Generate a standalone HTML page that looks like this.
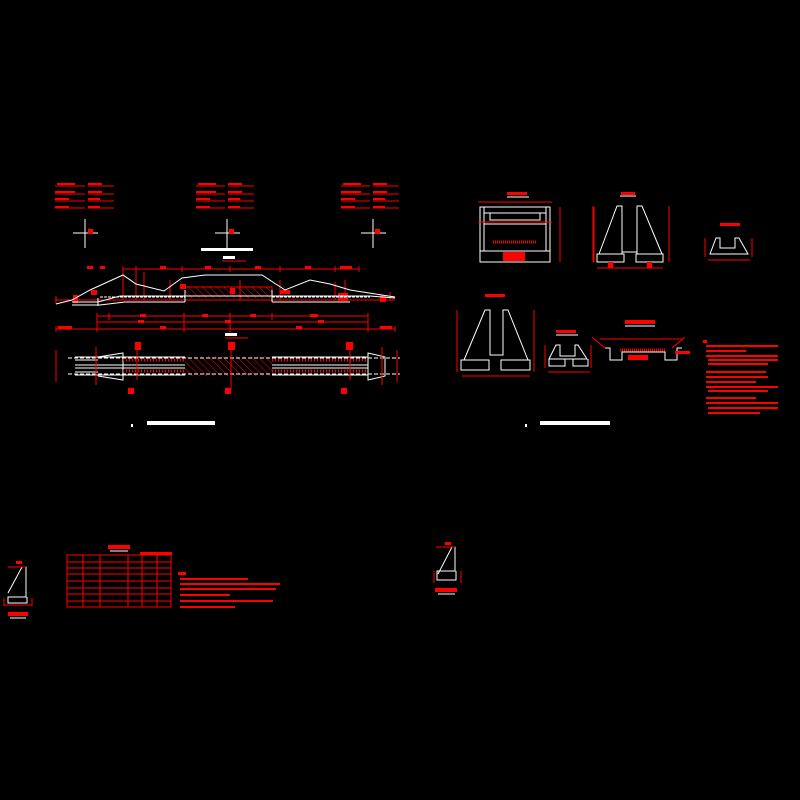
<!DOCTYPE html>
<html><head><meta charset="utf-8"><style>
html,body{margin:0;padding:0;background:#000;width:800px;height:800px;overflow:hidden}
svg{display:block}
text{font-family:"Liberation Sans","Noto Sans CJK SC",sans-serif;fill:#f00;font-size:5px}
.w{stroke:#fff;fill:none;stroke-width:1}
.r{stroke:#f00;fill:none;stroke-width:1}
.rf{fill:#f00}
.wt{fill:#fff}
</style></head><body>
<svg width="800" height="800" viewBox="0 0 800 800" xmlns="http://www.w3.org/2000/svg">
<defs>
<pattern id="h" width="5" height="5" patternUnits="userSpaceOnUse" patternTransform="rotate(-45)"><line x1="0" y1="0" x2="0" y2="5" stroke="#f00" stroke-width="1"/></pattern>
</defs>
<rect width="800" height="800" fill="#000"/>

<!-- Top text tables -->
<g class="rf">
<rect x="57" y="183" width="18" height="2"/><rect x="88" y="183" width="14" height="2"/>
<rect x="55" y="191" width="20" height="2"/><rect x="88" y="191" width="14" height="2"/>
<rect x="55" y="198" width="14" height="2"/><rect x="88" y="198" width="12" height="2"/>
<rect x="55" y="206" width="14" height="2"/><rect x="88" y="206" width="12" height="2"/>
<rect x="198" y="183" width="18" height="2"/><rect x="228" y="183" width="14" height="2"/>
<rect x="196" y="191" width="20" height="2"/><rect x="228" y="191" width="14" height="2"/>
<rect x="196" y="198" width="14" height="2"/><rect x="228" y="198" width="12" height="2"/>
<rect x="196" y="206" width="14" height="2"/><rect x="228" y="206" width="12" height="2"/>
<rect x="343" y="183" width="18" height="2"/><rect x="373" y="183" width="14" height="2"/>
<rect x="341" y="191" width="20" height="2"/><rect x="373" y="191" width="14" height="2"/>
<rect x="341" y="198" width="14" height="2"/><rect x="373" y="198" width="12" height="2"/>
<rect x="341" y="206" width="14" height="2"/><rect x="373" y="206" width="12" height="2"/>
</g>
<g class="r">
<path d="M55 186H85M88 186H114M55 194H85M88 194H114M55 201H85M88 201H114M55 208H85M88 208H114"/>
<path d="M196 186H225M228 186H254M196 194H225M228 194H254M196 201H225M228 201H254M196 208H225M228 208H254"/>
<path d="M341 186H370M373 186H399M341 194H370M373 194H399M341 201H370M373 201H399M341 208H370M373 208H399"/>
</g>
<!-- crosshairs -->
<g class="w"><path d="M85 219V248M73 233H98M227 219V248M215 233H240M373 219V248M361 233H386"/></g>
<g class="rf"><rect x="88" y="229" width="5" height="5"/><rect x="229" y="229" width="5" height="5"/><rect x="375" y="229" width="5" height="5"/></g>

<!-- title -->
<rect x="201" y="248" width="52" height="3" class="wt"/>
<rect x="223" y="256" width="12" height="3" class="wt"/><path d="M222 261H246" class="r"/>

<!-- elevation -->
<g class="r">
<path d="M123 269H359M123 266V272M136 266V272M182 266V272M230 266V272M280 266V272M335 266V272M359 266V272"/>
<path d="M123 269V300M136 272V300M144 272V300M170 280V300M240 280V300M280 280V300M335 282V300M345 280V300"/>
<path d="M185 287H272V298"/><path d="M56 304V296M390 300V292M55 300H395"/>
</g>
<g class="rf"><rect x="87" y="266" width="6" height="3"/><rect x="100" y="266" width="5" height="3"/><rect x="160" y="266" width="6" height="3"/><rect x="205" y="266" width="6" height="3"/><rect x="255" y="266" width="6" height="3"/><rect x="305" y="266" width="6" height="3"/><rect x="340" y="266" width="12" height="3"/>
<rect x="73" y="295" width="5" height="8"/><rect x="91" y="290" width="6" height="5"/><rect x="338" y="293" width="10" height="8"/><rect x="380" y="295" width="6" height="7"/><rect x="230" y="288" width="5" height="6"/><rect x="280" y="290" width="10" height="4"/><rect x="180" y="284" width="6" height="5"/></g>
<rect x="185" y="287" width="87" height="11" fill="url(#h)"/>
<g class="w">
<path d="M56 304L72 300L90 290L123 275L136 284L164 291L182 278L205 275L262 275L285 290L310 280L330 284L350 290L395 297"/>
<path d="M72 302H98L120 296H370L395 298"/>
<path d="M72 305H100L125 302H185M272 302H350"/>
<path d="M98 298V306M185 290V302M272 290V302"/>
<path d="M100 297H185M272 297H370" stroke-dasharray="3,1"/>
</g>

<!-- plan dims -->
<g class="r">
<path d="M97 316H368M97 322H368M56 329H395M97 313V332M109 313V320M184 313V332M230 313V332M272 313V320M368 313V332M56 326V332M395 326V332"/>
</g>
<g class="rf"><rect x="140" y="314" width="6" height="3"/><rect x="202" y="314" width="6" height="3"/><rect x="250" y="314" width="6" height="3"/><rect x="310" y="314" width="8" height="3"/><rect x="138" y="320" width="6" height="3"/><rect x="225" y="320" width="6" height="3"/><rect x="318" y="320" width="6" height="3"/><rect x="58" y="326" width="14" height="3"/><rect x="160" y="326" width="6" height="3"/><rect x="296" y="326" width="6" height="3"/><rect x="380" y="326" width="12" height="3"/></g>
<rect x="225" y="333" width="12" height="3" class="wt"/><path d="M225 338H248" class="r"/>

<!-- plan view -->
<rect x="185" y="356" width="87" height="20" fill="url(#h)"/>
<g class="w">
<path d="M75 357H185M272 357H368M75 365H185M272 365H368M75 368H185M272 368H368M75 375H185M272 375H368"/>
<path d="M75 360H98M75 372H98M98 357L123 353V380L98 376"/>
<path d="M368 353V380L385 376V357Z"/>
<path d="M68 358H400M68 374H400" stroke-dasharray="4,2"/>
</g>
<g class="r">
<path d="M56 350V382M397 350V382M96 347V385M382 347V385M231 346V390M137 345V380M350 345V380"/>
<path d="M123 360H185M272 360H368M123 371H185M272 371H368" stroke-dasharray="1,2" stroke-width="3"/>
</g>
<g class="rf"><rect x="135" y="342" width="6" height="8"/><rect x="228" y="342" width="7" height="8"/><rect x="346" y="342" width="7" height="8"/><rect x="128" y="388" width="6" height="6"/><rect x="225" y="388" width="6" height="6"/><rect x="341" y="388" width="6" height="6"/></g>

<rect x="147" y="421" width="68" height="4" class="wt"/>
<rect x="131" y="424" width="2" height="3" class="wt"/>

<!-- RIGHT SHEET -->
<rect x="507" y="192" width="20" height="3" class="rf"/><path d="M507 197H529" class="w"/>
<g class="w">
<path d="M480 207H550V262H480Z M480 251H550 M484 207V251M546 207V251 M484 213H546 M484 224H546 M490 213V220H540V213"/>
</g>
<g class="r"><path d="M478 202H552M478 222H552M560 207V262M594 207V262"/><path d="M493 242H537" stroke-dasharray="1,1" stroke-width="3"/></g>
<rect x="503" y="252" width="22" height="9" class="rf"/>
<rect x="621" y="192" width="14" height="3" class="rf"/><path d="M620 196H636" class="w"/>
<g class="w"><path d="M599 254L617 206H622V252H637V206H642L662 254 M597 254H624V262H597Z M636 254H663V262H636Z M622 252V254M637 252V254"/></g>
<g class="r"><path d="M593 206V262M669 206V262M597 268H663"/></g>
<rect x="608" y="262" width="5" height="6" class="rf"/><rect x="647" y="262" width="5" height="6" class="rf"/>
<rect x="720" y="223" width="20" height="3" class="rf"/>
<g class="w"><path d="M710 254L716 238H720V248H735V238H739L748 254H710Z"/></g>
<g class="r"><path d="M705 238V257M752 238V257M708 260H750"/></g>
<rect x="485" y="294" width="20" height="3" class="rf"/>
<g class="w"><path d="M464 360L485 310H490V355H503V310H508L528 360 M461 360H489V370H461Z M501 360H530V370H501Z"/></g>
<g class="r"><path d="M457 310V372M534 310V372M462 376H530"/></g>
<rect x="556" y="330" width="20" height="3" class="rf"/><path d="M556 335H578" class="w"/>
<g class="w"><path d="M549 359L556 345H560V356H575V345H578L587 359H549Z M549 359V366H565V359M573 359V366H588V359"/></g>
<g class="r"><path d="M545 345V368M591 345V368M548 372H590"/></g>
<rect x="625" y="320" width="30" height="4" class="rf"/><path d="M625 326H655" class="w"/>
<g class="w"><path d="M605 348H610V360H622V352H665V360H677V348H682"/></g>
<g class="r"><path d="M592 337L605 348M685 337L672 348M600 339H682"/><path d="M620 350H665" stroke-dasharray="1,1" stroke-width="3"/></g>
<rect x="628" y="355" width="20" height="5" class="rf"/><rect x="675" y="351" width="15" height="3" class="rf"/>
<g class="rf">
<rect x="703" y="340" width="4" height="3"/>
<rect x="706" y="345" width="72" height="2"/><rect x="706" y="350" width="40" height="2"/>
<rect x="706" y="355" width="72" height="2"/><rect x="708" y="359" width="70" height="2"/><rect x="708" y="363" width="60" height="2"/>
<rect x="706" y="371" width="60" height="2"/><rect x="706" y="376" width="62" height="2"/><rect x="706" y="381" width="50" height="2"/>
<rect x="706" y="386" width="72" height="2"/><rect x="708" y="390" width="60" height="2"/><rect x="706" y="397" width="50" height="2"/>
<rect x="706" y="402" width="72" height="2"/><rect x="708" y="407" width="70" height="2"/><rect x="708" y="412" width="52" height="2"/>
</g>
<rect x="540" y="421" width="70" height="4" class="wt"/>
<rect x="525" y="424" width="2" height="3" class="wt"/>

<!-- bottom left -->
<rect x="16" y="561" width="6" height="3" class="rf"/>
<g class="w"><path d="M8 593L22 567H26V597H8V603H27V597"/></g>
<g class="r"><path d="M8 567H26M4 598V606M32 598V606M4 605H32"/></g>
<rect x="8" y="612" width="20" height="4" class="rf"/><path d="M10 618H26" class="w"/>
<rect x="108" y="545" width="22" height="4" class="rf"/><path d="M110 551H128" class="w"/>
<g class="r">
<rect x="67" y="555" width="104" height="52"/>
<path d="M67 562H171M67 568H171M67 574H171M67 588H171M67 601H171 M67 594H171M67 581H171M83 555V607M100 555V607M128 555V607M142 555V607M157 555V607"/>
</g>
<rect x="140" y="552" width="32" height="3" class="rf"/>
<g class="rf">
<rect x="178" y="572" width="8" height="3"/>
<rect x="180" y="578" width="68" height="2"/><rect x="180" y="583" width="100" height="2"/>
<rect x="180" y="588" width="96" height="2"/><rect x="180" y="594" width="50" height="2"/>
<rect x="180" y="600" width="93" height="2"/><rect x="180" y="606" width="55" height="2"/>
</g>
<rect x="445" y="542" width="6" height="3" class="rf"/>
<g class="w"><path d="M438 574L452 547H455V571H437V580H456V571"/></g>
<g class="r"><path d="M436 547H455M434 571V583M461 571V583"/></g>
<rect x="435" y="588" width="22" height="4" class="rf"/><path d="M438 594H455" class="w"/>
</svg>
</body></html>
